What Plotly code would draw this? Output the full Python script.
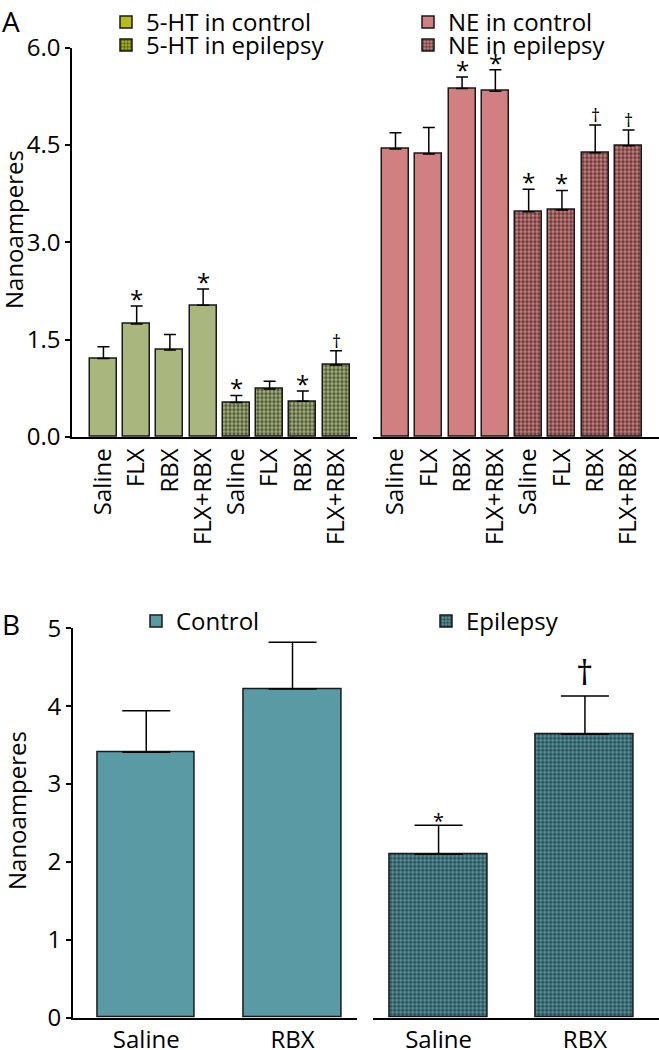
import plotly.graph_objects as go

W, H = 659, 1050
FONT = "Open Sans"

# panel A data
treatments = ["Saline", "FLX", "RBX", "FLX+RBX"]
ht_ctrl = [1.21, 1.74, 1.34, 2.03]
ht_ctrl_err = [0.18, 0.28, 0.24, 0.25]
ht_ctrl_marks = ["", "*", "", "*"]
ht_epi = [0.53, 0.74, 0.55, 1.11]
ht_epi_err = [0.11, 0.12, 0.16, 0.22]
ht_epi_marks = ["*", "", "*", "†"]
ne_ctrl = [4.44, 4.36, 5.37, 5.33]
ne_ctrl_err = [0.25, 0.41, 0.18, 0.33]
ne_ctrl_marks = ["", "", "*", "*"]
ne_epi = [3.47, 3.50, 4.38, 4.49]
ne_epi_err = [0.35, 0.30, 0.43, 0.24]
ne_epi_marks = ["*", "*", "†", "†"]
a_ticks = [0, 1.5, 3.0, 4.5, 6.0]

# panel B data
b_treatments = ["Saline", "RBX"]
b_ctrl = [3.41, 4.22]
b_ctrl_err = [0.53, 0.60]
b_epi = [2.10, 3.64]
b_epi_err = [0.37, 0.49]
b_epi_marks = ["*", "†"]

HT_BAR = "#a9b67e"
HT_KEY = "#b4bc1c"
NE_BAR = "#d08080"
TEAL = "#5a9aa5"

ctrl_x = list(range(4))
epi_x = [i + 4 for i in range(4)]
checker = dict(shape=".", size=4, solidity=0.6, fgcolor="black", fillmode="overlay")


def bars(x, y, err, color, xa, ya, cap, width, pattern=None, **kw):
    marker = dict(color=color, line=dict(color="#1a1a1a", width=1.5))
    if pattern:
        marker["pattern"] = pattern
    return go.Bar(
        x=x, y=y, width=width, marker=marker, xaxis=xa, yaxis=ya,
        error_y=dict(type="data", array=err, arrayminus=[0] * len(err), symmetric=False,
                     color="black", thickness=1.5, width=cap),
        **kw,
    )


def key(name, color, legend, pattern=None):
    marker = dict(color=color, line=dict(color="#1a1a1a", width=1.5))
    if pattern:
        marker["pattern"] = pattern
    return go.Bar(x=[None], y=[None], name=name, marker=marker, legend=legend,
                  xaxis="x", yaxis="y")


fig = go.Figure()
fig.add_trace(bars(ctrl_x, ht_ctrl, ht_ctrl_err, HT_BAR, "x", "y", 6, 0.81, showlegend=False))
fig.add_trace(bars(epi_x, ht_epi, ht_epi_err, HT_BAR, "x", "y", 6, 0.81, checker, showlegend=False))
fig.add_trace(bars(ctrl_x, ne_ctrl, ne_ctrl_err, NE_BAR, "x2", "y", 6, 0.81, showlegend=False))
fig.add_trace(bars(epi_x, ne_epi, ne_epi_err, NE_BAR, "x2", "y", 6, 0.81, checker, showlegend=False))
fig.add_trace(bars([0, 1], b_ctrl, b_ctrl_err, TEAL, "x3", "y3", 24, 0.667,
                   name="Control", legend="legend5"))
fig.add_trace(bars([0, 1], b_epi, b_epi_err, TEAL, "x4", "y3", 24, 0.667, checker,
                   name="Epilepsy", legend="legend6"))

fig.add_trace(key("5-HT in control", HT_KEY, "legend"))
fig.add_trace(key("5-HT in epilepsy", HT_KEY, "legend2", checker))
fig.add_trace(key("NE in control", NE_BAR, "legend3"))
fig.add_trace(key("NE in epilepsy", NE_BAR, "legend4", checker))

# significance marks
annots = []
groups = [
    ("x", "y", ctrl_x, ht_ctrl, ht_ctrl_err, ht_ctrl_marks, 24, 18),
    ("x", "y", epi_x, ht_epi, ht_epi_err, ht_epi_marks, 24, 18),
    ("x2", "y", ctrl_x, ne_ctrl, ne_ctrl_err, ne_ctrl_marks, 24, 18),
    ("x2", "y", epi_x, ne_epi, ne_epi_err, ne_epi_marks, 24, 18),
    ("x4", "y3", [0, 1], b_epi, b_epi_err, b_epi_marks, 20, 34),
]
for xa, ya, xs, ys, es, ms, star_size, dag_size in groups:
    for xv, yv, ev, m in zip(xs, ys, es, ms):
        if not m:
            continue
        annots.append(dict(
            x=xv, y=yv + ev, xref=xa, yref=ya, text=m, showarrow=False,
            yanchor="bottom", yshift=-11 if m == "*" else (-4 if dag_size < 30 else -1),
            font=dict(size=star_size if m == "*" else dag_size, color="black"),
        ))

annots += [
    dict(x=0, y=1.0, xref="paper", yref="paper", text="A", showarrow=False,
         xanchor="left", yanchor="top", font=dict(size=28)),
    dict(x=0, y=1 - 603 / H, xref="paper", yref="paper", text="B", showarrow=False,
         xanchor="left", yanchor="top", font=dict(size=28)),
    dict(x=13 / W, y=1 - 230 / H, xref="paper", yref="paper", text="Nanoamperes",
         showarrow=False, textangle=-90, xanchor="center", yanchor="middle",
         font=dict(size=24)),
    dict(x=16 / W, y=1 - 811 / H, xref="paper", yref="paper", text="Nanoamperes",
         showarrow=False, textangle=-90, xanchor="center", yanchor="middle",
         font=dict(size=24)),
]

xline = dict(showline=True, linecolor="black", linewidth=1.5, ticks="", showgrid=False,
             zeroline=False, tickfont=dict(size=24), automargin=False)
yline = dict(showline=True, linecolor="black", linewidth=1.5, ticks="outside", ticklen=5,
             tickwidth=1.5, tickcolor="black", showgrid=False, zeroline=False,
             tickfont=dict(size=24), automargin=False)

a_bottom, a_top = 1 - 437 / H, 1 - 47.7 / H
b_bottom, b_top = 1 - 1017.7 / H, 1 - 628.3 / H

legend_base = dict(xanchor="left", yanchor="top", bgcolor="rgba(0,0,0,0)",
                   font=dict(size=24), tracegroupgap=0)

fig.update_layout(
    width=W, height=H,
    margin=dict(l=0, r=0, t=0, b=0),
    plot_bgcolor="white", paper_bgcolor="white",
    font=dict(family=FONT, size=24, color="black"),
    bargap=0,
    xaxis=dict(xline, domain=[72 / W, 357 / W], range=[-0.946, 7.63], anchor="y",
               tickvals=ctrl_x + epi_x, ticktext=treatments * 2, tickangle=-90),
    xaxis2=dict(xline, domain=[373 / W, 1.0], range=[-0.676, 7.916], anchor="y",
                tickvals=ctrl_x + epi_x, ticktext=treatments * 2, tickangle=-90),
    yaxis=dict(yline, domain=[a_bottom, a_top], range=[0, 6], anchor="x",
               tickvals=a_ticks, ticktext=[f"{t:.1f}" for t in a_ticks]),
    xaxis3=dict(xline, domain=[72.7 / W, 356.7 / W], range=[-0.503, 1.439], anchor="y3",
                tickvals=[0, 1], ticktext=b_treatments),
    xaxis4=dict(xline, domain=[372.7 / W, 1.0], range=[-0.45, 1.506], anchor="y3",
                tickvals=[0, 1], ticktext=b_treatments),
    yaxis3=dict(yline, domain=[b_bottom, b_top], range=[0, 5], anchor="x3", dtick=1),
    legend=dict(legend_base, x=106 / W, y=1.0),
    legend2=dict(legend_base, x=106 / W, y=1 - 23 / H),
    legend3=dict(legend_base, x=408 / W, y=1.0),
    legend4=dict(legend_base, x=408 / W, y=1 - 23 / H),
    legend5=dict(legend_base, x=136 / W, y=1 - 599 / H),
    legend6=dict(legend_base, x=426 / W, y=1 - 599 / H),
    annotations=annots,
)

fig.write_html("out.html", config={"displayModeBar": False},
               post_script="document.body.style.margin='0px';")
